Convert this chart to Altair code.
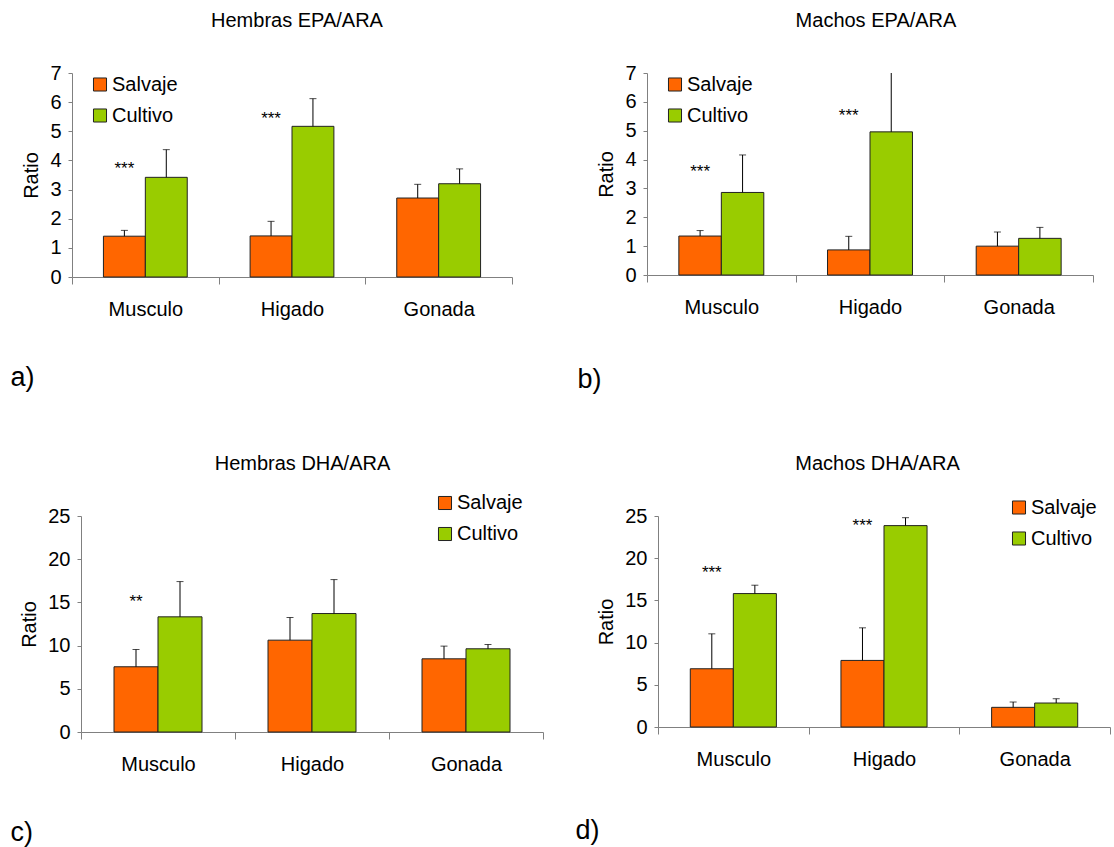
import altair as alt
import pandas as pd

# Tissues on the x axis and the two fish origins compared in each tissue
tissues = ["Musculo", "Higado", "Gonada"]
groups = ["Salvaje", "Cultivo"]
colors = ["#FF6600", "#99CC00"]

# a) Hembras EPA/ARA: mean ratio and standard deviation per tissue
a_salvaje = [1.40, 1.41, 2.71]
a_salvaje_sd = [0.20, 0.50, 0.47]
a_cultivo = [3.42, 5.17, 3.20]
a_cultivo_sd = [0.95, 0.95, 0.51]
a_stars = [("Musculo", "***", 3.85), ("Higado", "***", 5.57)]

# b) Machos EPA/ARA
b_salvaje = [1.35, 0.87, 1.00]
b_salvaje_sd = [0.19, 0.47, 0.49]
b_cultivo = [2.86, 4.96, 1.27]
b_cultivo_sd = [1.30, 2.60, 0.38]
b_stars = [("Musculo", "***", 3.70), ("Higado", "***", 5.66)]

# c) Hembras DHA/ARA
c_salvaje = [7.55, 10.63, 8.47]
c_salvaje_sd = [2.00, 2.62, 1.47]
c_cultivo = [13.33, 13.71, 9.63]
c_cultivo_sd = [4.08, 3.93, 0.50]
c_stars = [("Musculo", "**", 15.56)]

# d) Machos DHA/ARA
d_salvaje = [6.90, 7.89, 2.33]
d_salvaje_sd = [4.14, 3.86, 0.63]
d_cultivo = [15.81, 23.86, 2.84]
d_cultivo_sd = [0.99, 0.94, 0.51]
d_stars = [("Musculo", "***", 18.70), ("Higado", "***", 24.25)]

FONT = "Liberation Sans"
AXIS_GREY = "#808080"


def panel(title, title_dx, title_offset, letter, letter_x, letter_y,
          sal, sal_sd, cul, cul_sd, stars,
          ymax, ystep, inset, plot_w, height, legend_x, legend_y):
    rows = []
    for g, means, sds in (("Salvaje", sal, sal_sd), ("Cultivo", cul, cul_sd)):
        for t, m, s in zip(tissues, means, sds):
            rows.append({"tissue": t, "group": g, "mean": m, "upper": m + s})
    df = pd.DataFrame(rows)
    star_df = pd.DataFrame(
        [{"tissue": t, "group": "Salvaje", "label": lab, "pos": p} for t, lab, p in stars]
    )

    # the plot may start a few pixels into its grid cell (inset)
    x = alt.X(
        "tissue:N",
        sort=tissues,
        scale=alt.Scale(domain=tissues, paddingInner=0, paddingOuter=0,
                        range=[inset, inset + plot_w]),
        axis=alt.Axis(
            title=letter,
            labelAngle=0,
            labelFontSize=20,
            labelColor="black",
            labelPadding=15,
            tickBand="extent",
            tickSize=7,
            tickColor=AXIS_GREY,
            domainColor=AXIS_GREY,
            titleFontSize=27,
            titleFontWeight="normal",
            titleColor="black",
            titleAlign="left",
            titleBaseline="alphabetic",
            titleX=letter_x,
            titleY=letter_y,
        ),
    )
    xo = alt.XOffset(
        "group:N",
        sort=groups,
        scale=alt.Scale(domain=groups, paddingInner=0, paddingOuter=0.75),
    )
    y_scale = alt.Scale(domain=[0, ymax], nice=False)
    y_axis = alt.Axis(
        title="Ratio",
        values=list(range(0, ymax + 1, ystep)),
        labelOverlap=False,
        grid=False,
        offset=-inset,
        tickSize=4,
        tickColor=AXIS_GREY,
        domainColor=AXIS_GREY,
        labelFontSize=20,
        labelColor="black",
        labelPadding=7,
        titleFontSize=20,
        titleFontWeight="normal",
        titleColor="black",
        titlePadding=8,
    )

    def y_enc(field):
        return alt.Y(field, scale=y_scale, axis=y_axis)

    bars = alt.Chart(df).mark_bar(stroke="#222222", strokeWidth=1).encode(
        x=x,
        xOffset=xo,
        y=y_enc("mean:Q"),
        color=alt.Color(
            "group:N",
            sort=groups,
            scale=alt.Scale(domain=groups, range=colors),
            legend=alt.Legend(
                title=None,
                orient="none",
                legendX=legend_x,
                legendY=legend_y,
                symbolType="square",
                symbolSize=170,
                symbolStrokeColor="#222222",
                symbolStrokeWidth=1,
                symbolOpacity=1,
                labelFontSize=20,
                labelColor="black",
                labelOffset=2,
                rowPadding=11,
            ),
        ),
    )
    whisker = alt.Chart(df).mark_rule(color="black", strokeWidth=1, clip=True).encode(
        x=x, xOffset=xo, y=y_enc("mean:Q"), y2="upper:Q"
    )
    cap = alt.Chart(df).mark_tick(color="black", size=7, thickness=1, clip=True).encode(
        x=x, xOffset=xo, y=y_enc("upper:Q")
    )
    marks = alt.Chart(star_df).mark_text(
        fontSize=17, color="black", baseline="middle", dy=4
    ).encode(x=x, xOffset=xo, y=y_enc("pos:Q"), text="label:N")

    return alt.layer(bars, whisker, cap, marks).properties(
        width=inset + plot_w,
        height=height,
        title=alt.TitleParams(
            title, fontSize=20, fontWeight="normal", color="black",
            anchor="middle", frame="group", dx=title_dx, offset=title_offset,
        ),
    )


pa = panel("Hembras EPA/ARA", 5, 32, "a)", -62, 108,
           a_salvaje, a_salvaje_sd, a_cultivo, a_cultivo_sd, a_stars,
           7, 1, 0, 440, 204, 18, 1.5)
pb = panel("Machos EPA/ARA", 6, 32, "b)", -70, 112,
           b_salvaje, b_salvaje_sd, b_cultivo, b_cultivo_sd, b_stars,
           7, 1, 0, 446, 202, 18, 1.5)
pc = panel("Hembras DHA/ARA", -5, 19, "c)", -62, 108,
           c_salvaje, c_salvaje_sd, c_cultivo, c_cultivo_sd, c_stars,
           25, 5, 9, 462, 216, 363, -23)
pd_ = panel("Machos DHA/ARA", -1, 24, "d)", -72, 111,
            d_salvaje, d_salvaje_sd, d_cultivo, d_cultivo_sd, d_stars,
            25, 5, 11, 452, 211, 362, -18.5)

chart = alt.concat(
    pa, pb, pc, pd_,
    columns=2,
    bounds="flush",
    spacing={"row": 239, "column": 104},
).resolve_scale(
    color="independent", x="independent", y="independent", xOffset="independent"
).resolve_legend(color="independent").resolve_axis(
    x="independent", y="independent"
).properties(
    padding={"left": 10, "top": 11, "right": 2, "bottom": 2}
).configure(font=FONT).configure_view(stroke=None)

chart.save("out.html", embed_options={"renderer": "svg", "actions": False})
